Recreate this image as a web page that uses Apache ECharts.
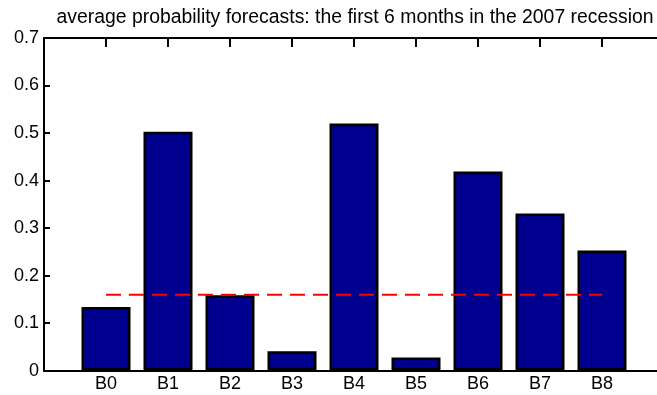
<!DOCTYPE html>
<html>
<head>
<meta charset="utf-8">
<script src="https://cdn.jsdelivr.net/npm/echarts@6/dist/echarts.min.js"></script>
<style>
  html, body { margin: 0; padding: 0; background: #fff; }
  #chart { width: 657px; height: 395px; }
</style>
</head>
<body>
<div id="chart"></div>
<script>
// Bar groups and their average forecast probabilities
const categories = ['B0', 'B1', 'B2', 'B3', 'B4', 'B5', 'B6', 'B7', 'B8'];
const probabilities = [0.134, 0.503, 0.159, 0.041, 0.520, 0.028, 0.419, 0.331, 0.253];
// Reference level drawn as a dashed line across the bars
const threshold = 0.16;
const yTicks = [0, 0.1, 0.2, 0.3, 0.4, 0.5, 0.6, 0.7];
const title = 'average probability forecasts: the first 6 months in the 2007 recession';

// Bars sit at x = 1..n on a 0..n+1 axis
const barData = probabilities.map((v, i) => [i + 1, v]);
const lineData = categories.map((c, i) => [i + 1, threshold]);
const xMax = categories.length + 1;

const chart = echarts.init(document.getElementById('chart'), null, { renderer: 'canvas' });

const fontFamily = '"Liberation Sans", Arial, sans-serif';

chart.setOption({
  animation: false,
  backgroundColor: '#ffffff',
  title: {
    text: title,
    left: 355,
    textAlign: 'center',
    top: 8,
    padding: 0,
    textStyle: { fontFamily, fontSize: 19.4, fontWeight: 'normal', color: '#000' }
  },
  grid: { left: 44, top: 38, width: 620, bottom: 24.3, outerBoundsMode: 'none', containLabel: false },
  xAxis: [
    {
      type: 'value',
      position: 'bottom',
      min: 0,
      max: xMax,
      interval: 1,
      splitLine: { show: false },
      axisLine: { show: true, lineStyle: { color: '#000', width: 2 } },
      axisTick: { show: true, inside: true, length: 9, lineStyle: { color: '#000', width: 2 } },
      axisLabel: {
        show: true,
        margin: 4,
        fontFamily, fontSize: 18, color: '#000',
        formatter: v => categories[v - 1] || ''
      }
    },
    {
      type: 'value',
      position: 'top',
      min: 0,
      max: xMax,
      interval: 1,
      splitLine: { show: false },
      axisLine: { show: true, onZero: false, lineStyle: { color: '#000', width: 2 } },
      axisTick: { show: true, inside: true, length: 9, lineStyle: { color: '#000', width: 2 } },
      axisLabel: { show: false }
    }
  ],
  yAxis: {
    type: 'value',
    min: yTicks[0],
    max: yTicks[yTicks.length - 1],
    interval: 0.1,
    splitLine: { show: false },
    axisLine: { show: true, lineStyle: { color: '#000', width: 2 } },
    axisTick: { show: true, inside: true, length: 6, lineStyle: { color: '#000', width: 2 } },
    axisLabel: {
      margin: 5,
      fontFamily, fontSize: 18, color: '#000',
      formatter: v => String(Math.round(v * 10) / 10)
    }
  },
  series: [
    {
      type: 'bar',
      xAxisIndex: 0,
      data: barData,
      barWidth: 49,
      itemStyle: { color: '#00008f', borderColor: '#000', borderWidth: 2.7 },
      z: 2
    },
    {
      type: 'line',
      xAxisIndex: 0,
      data: lineData,
      symbol: 'none',
      lineStyle: { color: '#ff0000', width: 2, type: [15, 8] },
      z: 3
    }
  ]
});
</script>
</body>
</html>
